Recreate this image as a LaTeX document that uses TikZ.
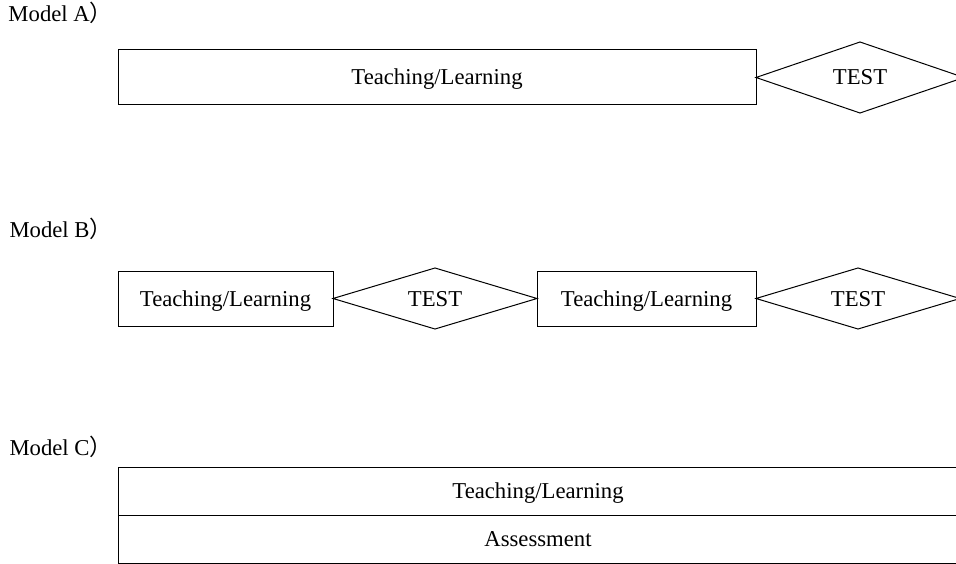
\documentclass[tikz,border=0pt]{standalone}
\usepackage{fontspec}
\setmainfont{Liberation Serif}
\newfontfamily\cjk{Noto Sans CJK SC}
\usepackage{tikz}
\usetikzlibrary{positioning,shapes}

\tikzset{
	tlbox/.style={shape=rectangle,draw,minimum height=55pt,inner sep=0pt,outer sep=0pt,text height=15pt,text depth=0pt},
	testdia/.style={shape=diamond,draw,aspect=3,inner sep=0pt,outer sep=0pt,minimum width=204pt,text height=15pt,text depth=0pt},
	modellabel/.style={anchor=base west,inner sep=0pt}
}

\begin{document}
\begin{tikzpicture}[x=1pt,y=-1pt,line width=1pt,font=\fontsize{22.7}{27}\selectfont]
		\useasboundingbox (0,0) rectangle (956,564);
		\clip (0,0) rectangle (956,564);
		% Model A
		\begin{scope}
			\node(lblA) [modellabel] at (8,22) {Model A{\cjk ）}};
			\node(tlA) [tlbox,minimum width=638pt,anchor=west] at (118,77.5) {Teaching/Learning};
			\node(testA) [testdia,right=0pt of tlA,minimum width=208pt,minimum height=71pt] {TEST};
		\end{scope}
		% Model B
		\begin{scope}
			\node(lblB) [modellabel] at (9,238) {Model B{\cjk ）}};
			\node(tlB1) [tlbox,minimum width=215pt,anchor=west] at (118,298.5) {Teaching/Learning};
			\node(testB1) [testdia,right=0pt of tlB1,minimum height=61pt] {TEST};
			\node(tlB2) [tlbox,minimum width=219pt,right=0pt of testB1] {Teaching/Learning};
			\node(testB2) [testdia,right=0pt of tlB2,minimum height=61pt] {TEST};
		\end{scope}
		% Model C
		\begin{scope}
			\node(lblC) [modellabel] at (9,455) {Model C{\cjk ）}};
			\node(tlC) [tlbox,minimum width=840pt,minimum height=48pt,anchor=north west] at (118,467) {Teaching/Learning};
			\node(asC) [tlbox,minimum width=840pt,minimum height=48pt,below=0pt of tlC] {Assessment};
		\end{scope}
	\end{tikzpicture}
\end{document}
